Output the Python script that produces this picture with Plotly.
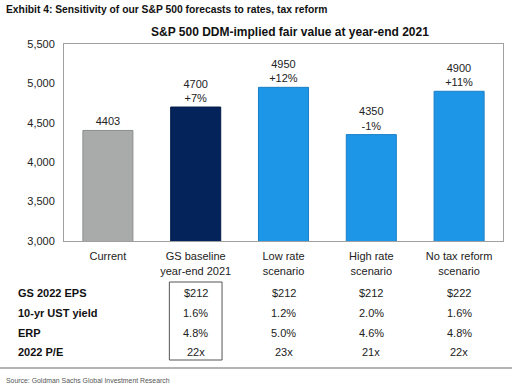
import plotly.graph_objects as go

categories = ["Current", "GS baseline<br>year-end 2021", "Low rate<br>scenario",
              "High rate<br>scenario", "No tax reform<br>scenario"]
fair_values = [4403, 4700, 4950, 4350, 4900]
bar_labels = ["4403", "4700<br>+7%", "4950<br>+12%", "4350<br>-1%", "4900<br>+11%"]
bar_colors = ["#A9ABAA", "#04235A", "#1E96E8", "#1E96E8", "#1E96E8"]
edge_colors = ["#8C8E8D", "#021A45", "#1A7FC6", "#1A7FC6", "#1A7FC6"]

row_labels = ["GS 2022 EPS", "10-yr UST yield", "ERP", "2022 P/E"]
eps = ["", "$212", "$212", "$212", "$222"]
ust_yield = ["", "1.6%", "1.2%", "2.0%", "1.6%"]
erp = ["", "4.8%", "5.0%", "4.6%", "4.8%"]
pe = ["", "22x", "23x", "21x", "22x"]
table_rows = [eps, ust_yield, erp, pe]

W, H = 512, 386
ML, MR, MT, MB = 64, 9, 44, 145
PW, PH = W - ML - MR, H - MT - MB

def px(x):
    return (x - ML) / PW

def py(y):
    return (H - MB - y) / PH

FONT = "Liberation Sans, Arial, sans-serif"

xs = list(range(len(categories)))

fig = go.Figure()
fig.add_trace(go.Bar(
    x=xs, y=fair_values, base=0,
    marker=dict(color=bar_colors, line=dict(color=edge_colors, width=1)),
    width=0.57,
    text=bar_labels, textposition="outside", cliponaxis=False,
    textfont=dict(family=FONT, size=11, color="#222222"),
    hoverinfo="skip",
))

ann = []
ann.append(dict(text="<b>Exhibit 4: Sensitivity of our S&P 500 forecasts to rates, tax reform</b>",
                x=px(4), y=py(10), xref="paper", yref="paper", xanchor="left", yanchor="middle",
                showarrow=False, font=dict(family=FONT, size=10.3, color="#111111")))
ann.append(dict(text="<b>S&P 500 DDM-implied fair value at year-end 2021</b>",
                x=px(290), y=py(32), xref="paper", yref="paper", xanchor="center", yanchor="middle",
                showarrow=False, font=dict(family=FONT, size=12, color="#111111")))
row_y = [293, 313, 333, 352]
for lab, ry, vals in zip(row_labels, row_y, table_rows):
    ann.append(dict(text="<b>" + lab + "</b>", x=px(16), y=py(ry), xref="paper", yref="paper",
                    xanchor="left", yanchor="middle", showarrow=False,
                    font=dict(family=FONT, size=11, color="#111111")))
    for i, v in enumerate(vals):
        if v:
            ann.append(dict(text=v, x=i, y=py(ry), xref="x", yref="paper",
                            xanchor="center", yanchor="middle", showarrow=False,
                            font=dict(family=FONT, size=11, color="#222222")))
ann.append(dict(text="Source: Goldman Sachs Global Investment Research",
                x=px(4), y=py(380), xref="paper", yref="paper", xanchor="left", yanchor="middle",
                showarrow=False, font=dict(family=FONT, size=6.9, color="#555555")))

shapes = [
    dict(type="rect", xref="x", yref="paper", x0=0.7, x1=1.3, y0=py(360), y1=py(282),
         line=dict(color="#555555", width=1), fillcolor="rgba(0,0,0,0)"),
    dict(type="line", xref="paper", yref="paper", x0=px(0), x1=px(512), y0=py(368), y1=py(368),
         line=dict(color="#9A9A9A", width=1.5)),
]

fig.update_layout(
    width=W, height=H,
    margin=dict(l=ML, r=MR, t=MT, b=MB),
    paper_bgcolor="white", plot_bgcolor="white",
    showlegend=False,
    annotations=ann, shapes=shapes,
    font=dict(family=FONT, size=11, color="#222222"),
    xaxis=dict(tickmode="array", tickvals=xs, ticktext=categories, range=[-0.5, 4.5],
               showline=True, linecolor="#A0A0A0", linewidth=1, mirror=True,
               ticks="outside", ticklen=5, tickcolor="rgba(0,0,0,0)",
               tickfont=dict(family=FONT, size=11, color="#222222"), showgrid=False),
    yaxis=dict(range=[3000, 5500], dtick=500, tickformat=",", showgrid=False, zeroline=False,
               showline=True, linecolor="#A0A0A0", linewidth=1, mirror=True,
               ticks="outside", ticklen=6, tickcolor="rgba(0,0,0,0)",
               tickfont=dict(family=FONT, size=11, color="#222222")),
)

fig.write_html("out.html", config={"displayModeBar": False},
               post_script="document.body.style.margin='0';document.body.style.overflow='hidden';")
